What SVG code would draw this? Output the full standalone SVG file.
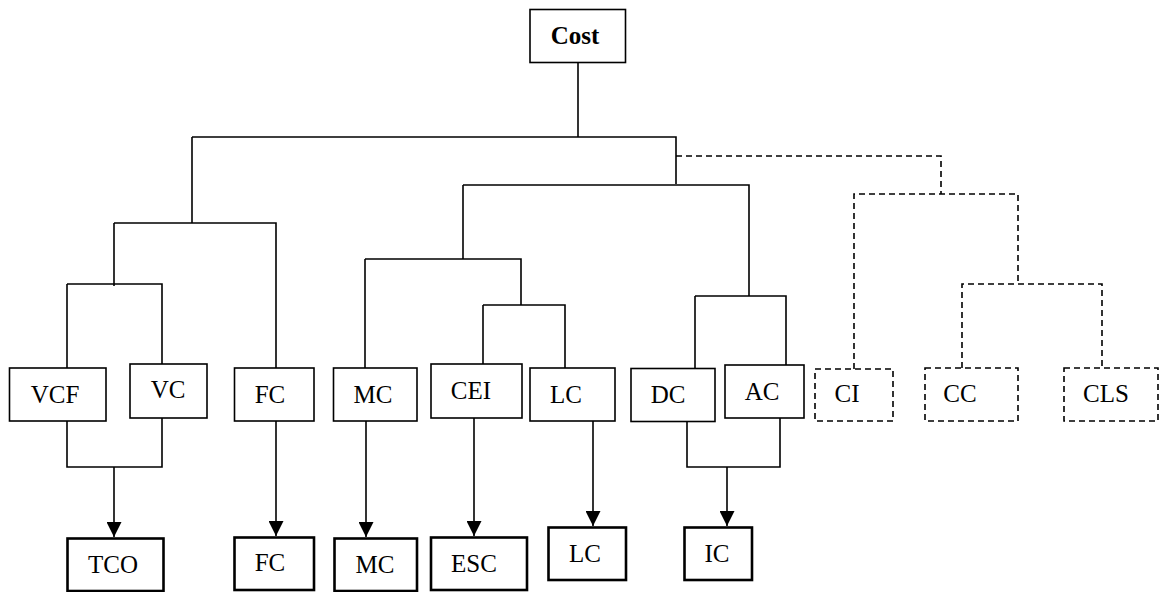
<svg xmlns="http://www.w3.org/2000/svg" width="1176" height="592" viewBox="0 0 1176 592">
  <style>
    .box { fill: #ffffff; stroke: #000000; stroke-width: 1.6; }
    .box.out { stroke-width: 2.6; }
    .box.dash { stroke-dasharray: 6 4; }
    .lbl { font-family: "Liberation Serif", "Times New Roman", serif; font-size: 25px; fill: #000000; text-anchor: middle; }
    .lbl.bold { font-weight: bold; }
    .ln { fill: none; stroke: #000000; stroke-width: 1.6; }
    .ln.dash { stroke-dasharray: 6 4; }
    .ln.arr { marker-end: url(#head); }
  </style>
  <defs>
    <marker id="head" markerUnits="userSpaceOnUse" markerWidth="16" markerHeight="15" refX="15" refY="7.5" orient="auto">
      <path d="M0,0 L15,7.5 L0,15 Z" fill="#000000"/>
    </marker>
  </defs>
  <rect width="1176" height="592" fill="#ffffff"/>

  <!-- connectors -->
  <g id="connectors">
    <!-- root -->
    <path class="ln" d="M578,62 V137"/>
    <path class="ln" d="M192,137 H676 V184"/>
    <!-- left branch -->
    <path class="ln" d="M192,137 V223"/>
    <path class="ln" d="M114,223 H276 V368"/>
    <path class="ln" d="M114,223 V286"/>
    <path class="ln" d="M67,284 H162 V364"/>
    <path class="ln" d="M67,284 V368"/>
    <!-- middle branch -->
    <path class="ln" d="M463,185 H749 V296"/>
    <path class="ln" d="M463,185 V259"/>
    <path class="ln" d="M365,259 H521 V305"/>
    <path class="ln" d="M365,259 V368"/>
    <path class="ln" d="M483,305 H565 V368"/>
    <path class="ln" d="M483,305 V364"/>
    <path class="ln" d="M695,296 H786 V365"/>
    <path class="ln" d="M695,296 V368"/>
    <!-- dashed branch -->
    <path class="ln dash" d="M676,156 H941 V194"/>
    <path class="ln dash" d="M854,369 V194 H1018 V284"/>
    <path class="ln dash" d="M962,368 V284 H1102 V368"/>
    <!-- outputs -->
    <path class="ln" d="M67,421 V467 H162 V418"/>
    <path class="ln arr" d="M114,467 V537"/>
    <path class="ln arr" d="M276,421 V536"/>
    <path class="ln arr" d="M366,421 V537"/>
    <path class="ln arr" d="M474,418 V536"/>
    <path class="ln arr" d="M593,421 V526"/>
    <path class="ln" d="M687,422 V467 H780 V418"/>
    <path class="ln arr" d="M727,467 V526"/>
  </g>

  <!-- root node -->
  <g id="node-cost">
    <rect class="box" x="530" y="9.5" width="95.5" height="53"/>
    <text class="lbl bold" x="575" y="43.5">Cost</text>
  </g>

  <!-- second row -->
  <g id="node-vcf">
    <rect class="box" x="9.5" y="368" width="96.5" height="53"/>
    <text class="lbl" x="55" y="403">VCF</text>
  </g>
  <g id="node-vc">
    <rect class="box" x="130" y="364" width="77" height="54"/>
    <text class="lbl" x="168" y="398">VC</text>
  </g>
  <g id="node-fc">
    <rect class="box" x="234.5" y="368" width="79.5" height="53"/>
    <text class="lbl" x="270" y="403">FC</text>
  </g>
  <g id="node-mc">
    <rect class="box" x="333.5" y="368" width="83.5" height="53"/>
    <text class="lbl" x="373" y="403">MC</text>
  </g>
  <g id="node-cei">
    <rect class="box" x="431" y="364" width="91" height="54"/>
    <text class="lbl" x="471" y="399">CEI</text>
  </g>
  <g id="node-lc">
    <rect class="box" x="530" y="368" width="85" height="53"/>
    <text class="lbl" x="566" y="403">LC</text>
  </g>
  <g id="node-dc">
    <rect class="box" x="631" y="368.5" width="84" height="53"/>
    <text class="lbl" x="668" y="403">DC</text>
  </g>
  <g id="node-ac">
    <rect class="box" x="725" y="365" width="79" height="53"/>
    <text class="lbl" x="762" y="400">AC</text>
  </g>
  <g id="node-ci">
    <rect class="box dash" x="815" y="369" width="78" height="52"/>
    <text class="lbl" x="847" y="402">CI</text>
  </g>
  <g id="node-cc">
    <rect class="box dash" x="925" y="368" width="93" height="53"/>
    <text class="lbl" x="960" y="402">CC</text>
  </g>
  <g id="node-cls">
    <rect class="box dash" x="1064" y="368" width="94" height="53"/>
    <text class="lbl" x="1106" y="402">CLS</text>
  </g>

  <!-- output row -->
  <g id="node-tco">
    <rect class="box out" x="67.5" y="538.5" width="96" height="52.5"/>
    <text class="lbl" x="113" y="573">TCO</text>
  </g>
  <g id="node-fc-out">
    <rect class="box out" x="234.5" y="537.5" width="79.5" height="52.5"/>
    <text class="lbl" x="270" y="571">FC</text>
  </g>
  <g id="node-mc-out">
    <rect class="box out" x="334.5" y="538.5" width="82.5" height="52.5"/>
    <text class="lbl" x="375" y="573">MC</text>
  </g>
  <g id="node-esc">
    <rect class="box out" x="431" y="537.5" width="96" height="52.5"/>
    <text class="lbl" x="474" y="572">ESC</text>
  </g>
  <g id="node-lc-out">
    <rect class="box out" x="548.5" y="527.5" width="77.5" height="52.5"/>
    <text class="lbl" x="585" y="562">LC</text>
  </g>
  <g id="node-ic">
    <rect class="box out" x="684.5" y="527.5" width="67.5" height="52.5"/>
    <text class="lbl" x="717" y="562">IC</text>
  </g>
</svg>
